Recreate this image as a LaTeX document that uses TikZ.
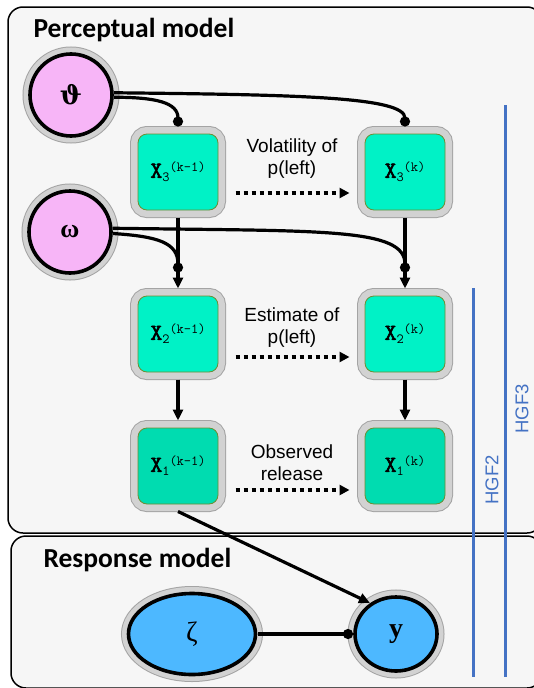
\documentclass[tikz,border=0pt]{standalone}
\usepackage{fontspec}
\setmainfont{Liberation Sans}
\newfontfamily\titlefont{Carlito}
\newfontfamily\grkfont{Liberation Serif}
\newfontfamily\varthfont{DejaVu Serif}
\newfontfamily\xfont[FakeBold=2.5]{Latin Modern Mono}
\newfontfamily\xsmallfont{Latin Modern Mono}
\usetikzlibrary{arrows.meta,positioning,shapes.geometric}

\definecolor{panelbg}{HTML}{F6F6F6}
\definecolor{pinkfill}{HTML}{F7B5F7}
\definecolor{greenfill}{HTML}{00F2C6}
\definecolor{greendark}{HTML}{00DCB0}
\definecolor{greenedge}{HTML}{6E8C32}
\definecolor{bluefill}{HTML}{4DB8FF}
\definecolor{hgfblue}{HTML}{4472C4}
\definecolor{ringgray}{HTML}{D2D2D2}
\definecolor{ringedge}{HTML}{A4A4A4}

\newcommand{\xlab}[2]{X\raisebox{-4pt}{\xsmallfont\fontsize{14}{14}\selectfont #1}\raisebox{6pt}{\xsmallfont\fontsize{14}{14}\selectfont(#2)}}

\begin{document}
\begin{tikzpicture}[x=1pt,y=1pt,
    panel/.style={draw=black,line width=1.5pt,fill=panelbg,rounded corners=15pt},
    title/.style={font=\titlefont\bfseries\fontsize{27.5}{30}\selectfont,anchor=base west},
    param/.style={circle,minimum size=82pt,inner sep=0pt,fill=pinkfill,draw=black,line width=3.6pt,
      preaction={draw=ringedge,line width=15pt},preaction={draw=ringgray,line width=13pt},
      outer sep=2pt,font=\fontsize{26}{26}\selectfont},
    resp/.style={ellipse,inner sep=0pt,fill=bluefill,draw=black,line width=3.6pt,
      preaction={draw=ringedge,line width=15pt},preaction={draw=ringgray,line width=13pt},
      outer sep=2pt,font=\grkfont\fontsize{28}{28}\selectfont},
    xbox/.style={rectangle,rounded corners=9pt,minimum width=80pt,minimum height=76pt,inner sep=0pt,
      fill=greenfill,draw=greenedge,line width=0.8pt,
      preaction={draw=ringedge,line width=16pt},preaction={draw=ringgray,line width=14pt},
      outer sep=7.5pt,font=\xfont\fontsize{23}{23}\selectfont},
    lbl/.style={align=center,font=\fontsize{19}{22}\selectfont},
    arr/.style={line width=3.2pt,-{Triangle[length=11pt,width=10pt]}},
    dotline/.style={line width=3.2pt,-{Circle[length=10pt]}},
    dotarr/.style={line width=3.4pt,dash pattern=on 4pt off 4pt,-{Triangle[length=10pt,width=10pt]}},
    hgf/.style={draw=hgfblue,line width=3pt},
    hgflbl/.style={rotate=90,text=hgfblue,font=\fontsize{18.5}{18.5}\selectfont}]
  \useasboundingbox (0,0) rectangle (534,-688);
  \clip (0,0) rectangle (534,-688);

  % Panels
  \draw[panel] (8,-7) rectangle (542,-533);
  \draw[panel] (11,-536) rectangle (542,-688);
  \node[title] (tperc) at (30,-37) {Perceptual model};
  \node[title] (tresp) at (40,-567) {Response model};

  % HGF levels
  \draw[hgf] (473,-288) -- (473,-677);
  \draw[hgf] (505,-105) -- (505,-677);
  \node[hgflbl] (thgf2) at (492,-480) {HGF2};
  \node[hgflbl] (thgf3) at (522,-409) {HGF3};

  % Parameters
  \node[param] (th) at (71,-95) {\varthfont\bfseries ϑ};
  \node[param] (om) at (70,-232) {\grkfont\bfseries ω};

  % States
  \node[xbox] (x3a) at (178,-172) {\xlab{3}{k-1}};
  \node[xbox] (x3b) at (405,-172) {\xlab{3}{k}};
  \node[xbox] (x2a) at (178,-334) {\xlab{2}{k-1}};
  \node[xbox] (x2b) at (405,-334) {\xlab{2}{k}};
  \node[xbox,fill=greendark] (x1a) at (178,-466) {\xlab{1}{k-1}};
  \node[xbox,fill=greendark] (x1b) at (405,-466) {\xlab{1}{k}};

  % Response
  \node[resp,minimum width=127pt,minimum height=81pt] (ze) at (192,-634) {ζ};
  \node[resp,minimum width=82pt,minimum height=74pt] (yy) at (396,-634) {\bfseries y};

  % Labels between time steps
  \node[lbl] (tvol) at (292,-159) {Volatility of\\p(left)};
  \node[lbl] (test) at (292,-328) {Estimate of\\p(left)};
  \node[lbl] (tobs) at (292,-463) {Observed\\release};

  % Time arrows
  \draw[dotarr] ([xshift=10pt,yshift=-21pt]x3a.east) -- ([xshift=-8pt,yshift=-21pt]x3b.west);
  \draw[dotarr] ([xshift=10pt,yshift=-23pt]x2a.east) -- ([xshift=-8pt,yshift=-23pt]x2b.west);
  \draw[dotarr] ([xshift=10pt,yshift=-24pt]x1a.east) -- ([xshift=-8pt,yshift=-24pt]x1b.west);

  % Hierarchy
  \draw[arr] (x3a) -- (x2a);
  \draw[arr] (x3b) -- (x2b);
  \draw[arr] (x2a) -- (x1a);
  \draw[arr] (x2b) -- (x1b);

  % Coupling parameters
  \coordinate[above=16pt of x2a.north] (m2a);
  \coordinate[above=16pt of x2b.north] (m2b);
  \draw[dotline] (th.-3) .. controls +(42,0) and +(0,24) .. (x3a.north);
  \draw[dotline] (th.3) .. controls +(180,-2) and +(0,30) .. (x3b.north);
  \draw[dotline] (om.-2) .. controls +(45,-3) and +(0,30) .. (m2a);
  \draw[dotline] (om.5) .. controls +(210,-3) and +(0,45) .. (m2b);

  % Response links
  \draw[arr] (x1a.south) -- (yy.130);
  \draw[dotline] (ze) -- (yy);
\end{tikzpicture}
\end{document}
